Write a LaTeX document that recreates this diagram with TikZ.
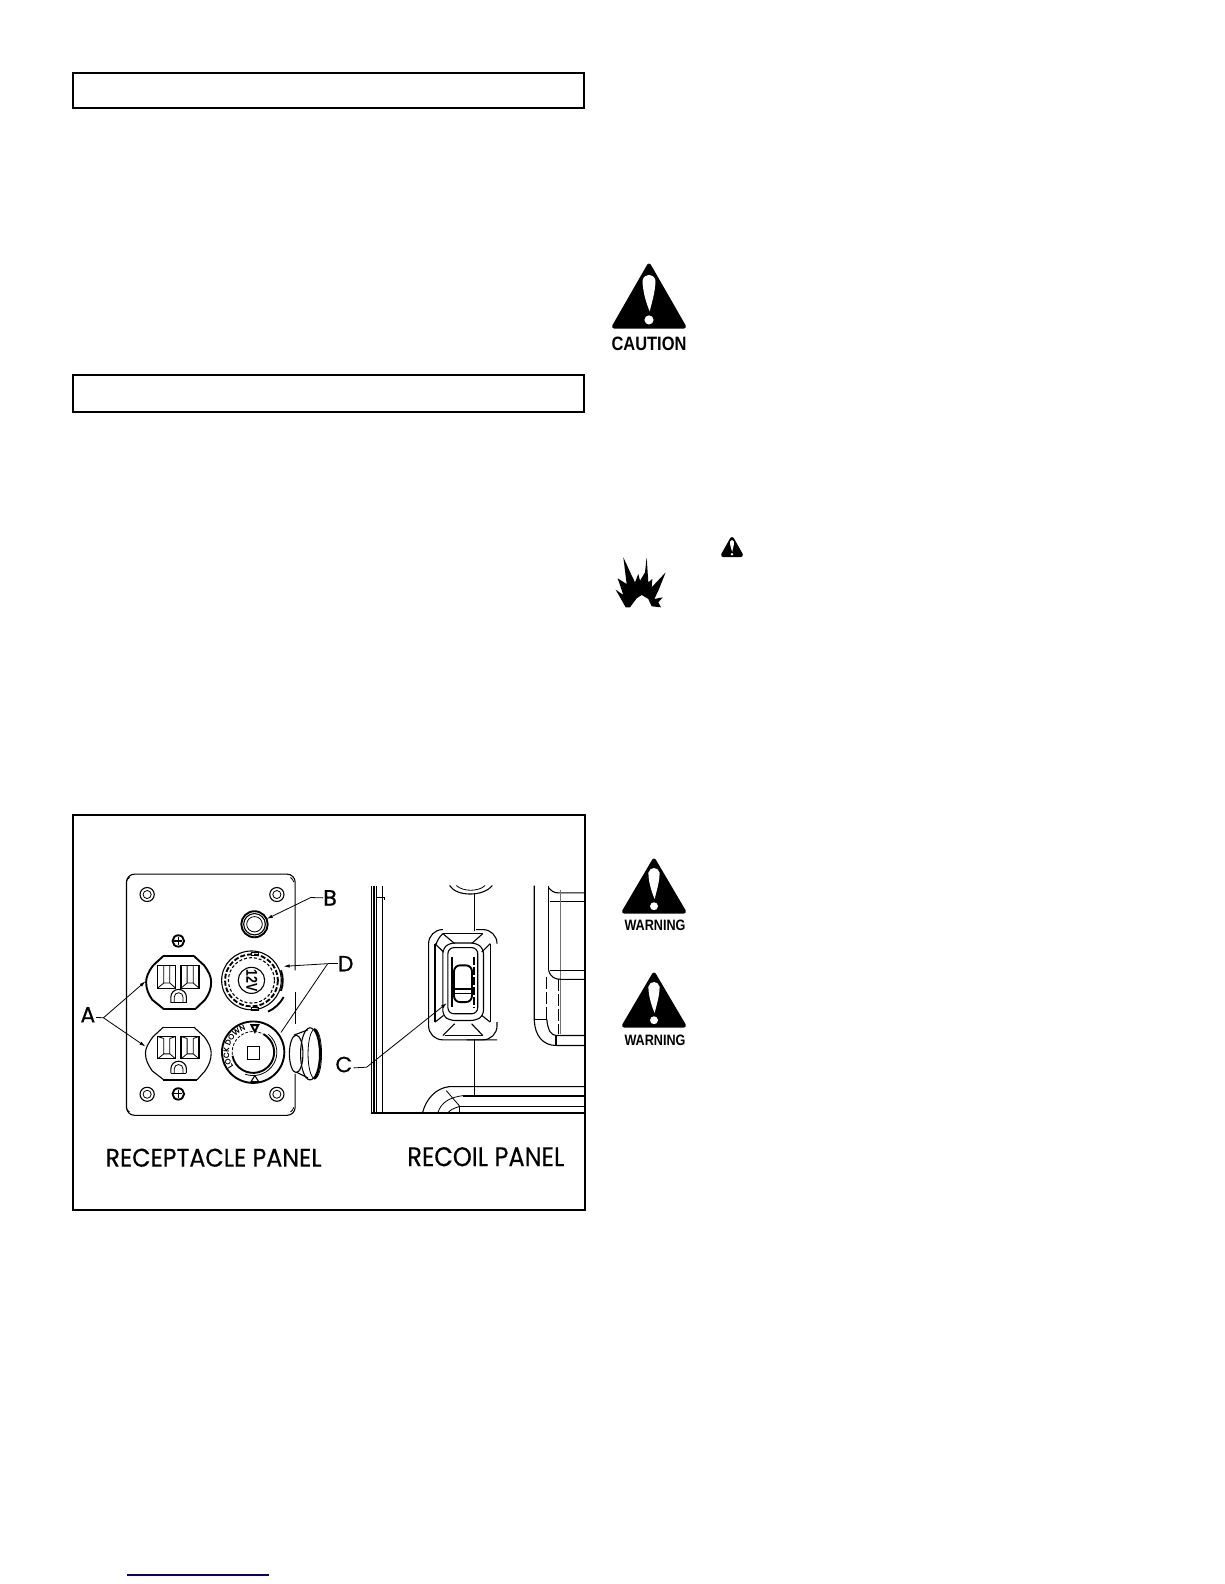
\documentclass[tikz,border=0pt]{standalone}
\usepackage{fontspec}
\usepackage{graphicx}
\setmainfont{Liberation Sans}
\newfontfamily\geo{Poppins}
\newfontfamily\geobold[FakeBold=0.35]{Poppins}
\newfontfamily\geoheavy[FakeBold=0.9]{Poppins}
\usetikzlibrary{decorations.text,arrows.meta}
\tikzset{
  framebox/.style={draw=black,line width=2pt},
  thin line/.style={draw=black,line width=0.8pt},
  med line/.style={draw=black,line width=1.1pt},
  heavy line/.style={draw=black,line width=1.9pt},
  leader/.style={draw=black,line width=0.8pt,-{Latex[length=6pt,width=3.5pt]}},
  plainleader/.style={draw=black,line width=0.8pt},
  callout/.style={inner sep=0pt,font=\geobold\fontsize{22}{22}\selectfont},
  calloutheavy/.style={inner sep=0pt,font=\geoheavy\fontsize{22}{22}\selectfont},
  panelname/.style={inner sep=0pt,font=\geobold},
  signtext/.style={inner sep=0pt,font=\bfseries}
}
% warning triangle: apex x, apex y, half base, height
\newcommand{\warntri}[4]{%
  \begin{scope}[shift={(#1,#2)}]
    \fill[black,draw=black,line width=4pt,line join=round]
      (0,3) -- (#3-3,#4-2) -- (-#3+3,#4-2) -- cycle;
    \fill[white] (-0.17*#3,0.27*#4) .. controls (-0.12*#3,0.16*#4) and (0.12*#3,0.16*#4) .. (0.17*#3,0.27*#4)
      .. controls (0.17*#3,0.45*#4) and (0.05*#3,0.65*#4) .. (0.02*#3,0.74*#4)
      .. controls (-0.05*#3,0.65*#4) and (-0.17*#3,0.45*#4) .. cycle;
    \fill[white] (0,0.87*#4) circle[radius=0.12*#3];
  \end{scope}}
\begin{document}
\begin{tikzpicture}[x=1pt,y=-1pt]
\useasboundingbox[fill=white] (0,0) rectangle (1224,1584);
% header boxes
\draw[framebox] (73,73) rectangle (584,108.5);
\draw[framebox] (73,375) rectangle (584,412);
\draw[framebox] (73,815) rectangle (585,1210);
% link rule
\draw[draw={rgb,255:red,0;green,0;blue,128},line width=1.3pt] (127,1575) -- (269,1575);
% signs
\warntri{649}{262.5}{38}{66}
\node[signtext] (cautiontext) at (649,344) {\resizebox{75pt}{13.5pt}{CAUTION}};
\warntri{732}{536}{12}{21}
\warntri{654}{857.5}{33}{56}
\node[signtext] (warntextone) at (655,925) {\resizebox{61pt}{10.5pt}{WARNING}};
\warntri{654}{971.5}{33}{56}
\node[signtext] (warntexttwo) at (655,1040) {\resizebox{61pt}{10.5pt}{WARNING}};
% explosion
\begin{scope}[shift={(595,519)},x=0.3333pt,y=-0.3333pt]
\fill[black] (85,115)--(108,165)--(120,190)--(130,165)--(135,185)--(150,160)--(155,115)--(160,190)--(172,180)--(170,205)--(212,160)--(190,215)--(178,240)--(203,235)--(190,250)--(198,265)--(170,262)--(160,240)--(140,228)--(125,238)--(105,265)--(92,265)--(62,212)--(85,228)--(68,178)--(95,195)--cycle;
\end{scope}
% panel figure in crop coordinates
\begin{scope}[shift={(60.1,800)},x=0.3387pt,y=-0.334pt]
% ---------- receptacle plate
\draw[med line,rounded corners=8pt] (694,510) -- (694,222) -- (196,222) -- (196,944) -- (694,944) -- (694,820);
\draw[thin line] (694,575) -- (694,670);
\draw[thin line] (205,232) arc[start angle=-120,end angle=-170,radius=20];
\draw[thin line] (680,232) arc[start angle=-60,end angle=-10,radius=20];
\draw[thin line] (205,934) arc[start angle=120,end angle=170,radius=20];
\draw[thin line] (680,934) arc[start angle=60,end angle=10,radius=20];
% plate screws
\foreach \sx/\sy in {257/283,640/283,257/881,640/881}{
  \draw[med line] (\sx,\sy) circle[radius=21];
  \draw[thin line] (\sx,\sy) circle[radius=12];
}
\foreach \sx/\sy in {349/422,349/880}{
  \draw[heavy line,fill=white] (\sx,\sy) circle[radius=17];
  \draw[med line] (\sx-12,\sy) -- (\sx+12,\sy) (\sx,\sy-12) -- (\sx,\sy+12);
}
% nut B
\draw[heavy line] (574,372) circle[radius=39];
\draw[med line] (574,372) circle[radius=32];
\draw[thin line] (574,372) circle[radius=23];
% receptacle upper
\draw[heavy line] (305,467) -- (395,467);
\draw[heavy line] (305,625) -- (400,625);
\draw[heavy line] (395,467) -- (425,495) .. controls (440,515) and (446,530) .. (446,545) .. controls (446,565) and (440,580) .. (428,598) -- (400,625);
\draw[heavy line] (305,467) -- (275,495) .. controls (260,515) and (254,530) .. (254,545) .. controls (254,565) and (260,580) .. (272,598) -- (305,625);
\foreach \ox in {288,357}{
  \draw[med line] (\ox,495) rectangle (\ox+53,563);
  \draw[thin line] (\ox+18,495) -- (\ox+18,548) -- (\ox,563) (\ox+36,495) -- (\ox+36,548) -- (\ox+53,563) (\ox+18,548) -- (\ox+36,548);
}
\draw[med line] (327,607) -- (373,607);
\draw[med line] (327,607) -- (327,590) arc[start angle=180,end angle=360,radius=23] -- (373,607);
\draw[thin line] (337,607) -- (337,590) arc[start angle=180,end angle=360,radius=13] -- (363,607);
% receptacle lower
\draw[med line] (305,680) -- (395,680);
\draw[heavy line] (305,837) -- (405,837);
\draw[med line] (395,680) -- (425,708) .. controls (440,728) and (446,743) .. (446,758) .. controls (446,778) and (440,793) .. (428,811) -- (405,837);
\draw[med line] (305,680) -- (275,708) .. controls (260,728) and (252,743) .. (252,758) .. controls (252,778) and (260,793) .. (272,811) -- (305,837);
\foreach \ox in {288,357}{
  \draw[med line] (\ox,708) rectangle (\ox+53,775);
  \draw[thin line] (\ox+18,714) -- (\ox+18,760) -- (\ox,775) (\ox+36,714) -- (\ox+36,760) -- (\ox+53,775) (\ox+18,760) -- (\ox+36,760) (\ox,708) -- (\ox+18,714) (\ox+53,708) -- (\ox+36,714);
}
\draw[med line] (327,818) -- (373,818);
\draw[med line] (327,818) -- (327,805) arc[start angle=180,end angle=360,radius=23] -- (373,818);
\draw[thin line] (337,818) -- (337,805) arc[start angle=180,end angle=360,radius=13] -- (363,818);
% 12V socket
\draw[med line] (565,540) circle[radius=88];
\draw[heavy line,dash pattern=on 5pt off 2pt] (565,540) circle[radius=78];
\draw[med line,dash pattern=on 3pt off 2pt] (565,540) circle[radius=68];
\draw[med line] (565,540) circle[radius=39];
\draw[heavy line] (660,590) arc[start angle=28,end angle=65,radius=100];
\draw[heavy line] (652,510) arc[start angle=-20,end angle=20,radius=90];
\draw[med line] (566,456) rectangle (586,465);
\draw[med line] (566,620) rectangle (586,629);
\node[inner sep=0pt,rotate=-90] (twelve) at (566,540) {\resizebox{22pt}{11pt}{\bfseries 12V}};
% lower socket
\draw[heavy line] (570,755) circle[radius=92];
\draw[heavy line] (570,755) ++(-60:62) arc[start angle=-60,end angle=170,radius=62];
\draw[thin line,dash pattern=on 3pt off 1.5pt] (570,755) circle[radius=62];
\draw[thin line] (570,755) ++(-50:70) arc[start angle=-50,end angle=110,radius=70];
\draw[med line] (553,738) rectangle (590,778);
\draw[heavy line] (565,674) -- (585,674) -- (575,694) -- cycle;
\draw[med line] (575,825) -- (564,843) -- (586,843) -- cycle;
\path[decorate,decoration={text along path,text={|\geobold\fontsize{7.5}{7.5}\selectfont|LOCK DOWN},text align=center}]
  (570,755) ++(-225:72) arc[start angle=-225,end angle=-98,radius=72];
% knob
\draw[med line] (690,704) -- (732,688);
\draw[med line] (698,815) -- (732,832);
\draw[med line] (697,760) ellipse[x radius=20,y radius=56];
\draw[med line] (738,760) ellipse[x radius=28,y radius=78];
\draw[heavy line] (768,760) arc[start angle=0,end angle=-80,x radius=22,y radius=76];
\draw[heavy line] (768,760) arc[start angle=0,end angle=80,x radius=22,y radius=76];
\draw[thin line] (752,760) ellipse[x radius=20,y radius=74];
% ---------- recoil panel
\draw[med line] (919,256) -- (919,937) -- (1552,937);
\draw[heavy line] (926,256) -- (926,937);
\draw[thin line] (935,256) -- (935,937);
\draw[med line] (951,256) -- (951,937);
\draw[thin line] (935,292) -- (956,292) -- (956,300);
% top arc and stems
\draw[med line] (1150,256) .. controls (1170,290) and (1250,290) .. (1276,256);
\draw[thin line] (1170,256) .. controls (1190,275) and (1235,275) .. (1255,256);
\draw[med line] (1224,282) -- (1224,392);
\draw[med line] (1224,716) -- (1224,885);
% switch bezel
\draw[med line,rounded corners=14pt] (1130,388) -- (1088,388) -- (1088,718) -- (1290,718);
\draw[med line,rounded corners=14pt] (1228,388) -- (1290,388) -- (1290,430);
\draw[med line,rounded corners=14pt] (1290,665) -- (1290,718) -- (1200,718);
\draw[med line] (1107,430) -- (1107,665);
\draw[med line] (1270,430) -- (1270,665);
\draw[med line] (1130,400) -- (1248,400) (1135,705) -- (1248,705);
\draw[med line,rounded corners=8pt] (1107,440) -- (1107,425) -- (1130,400);
\draw[med line] (1130,400) -- (1165,430) (1248,400) -- (1215,430) (1130,705) -- (1165,670) (1248,705) -- (1215,670);
\draw[med line] (1107,430) -- (1132,455) (1270,430) -- (1245,455) (1107,665) -- (1132,645) (1270,665) -- (1245,645);
\draw[med line,rounded corners=5pt] (1130,645) -- (1130,445) -- (1150,428) -- (1228,428) -- (1250,445) -- (1250,645) -- (1228,660) -- (1150,660) -- cycle;
\draw[med line,rounded corners=6pt] (1145,640) -- (1145,442) -- (1233,442) -- (1233,640) -- cycle;
\draw[heavy line] (1156,470) -- (1156,620);
\draw[med line,dash pattern=on 8pt off 2pt] (1222,470) -- (1222,620);
\draw[heavy line,rounded corners=6pt] (1163,495) rectangle (1216,605);
\draw[heavy line] (1163,565) -- (1216,565);
\draw[med line] (1163,578) -- (1216,578);
% bottom rails
\draw[med line] (1552,858) -- (1150,858) .. controls (1110,862) and (1080,895) .. (1070,937);
\draw[heavy line] (1552,885) -- (1190,885);
\draw[thin line] (1190,885) .. controls (1150,890) and (1125,905) .. (1115,937);
\draw[med line] (1552,917) -- (1180,917);
\draw[thin line] (1180,917) .. controls (1165,922) and (1150,928) .. (1145,937);
\draw[thin line] (1180,917) -- (1180,937);
\draw[thin line] (1140,870) -- (1180,917);
% right piece
\draw[med line] (1400,256) -- (1400,660) .. controls (1402,705) and (1425,735) .. (1465,735) -- (1552,735);
\draw[med line] (1442,256) -- (1442,510);
\draw[med line] (1442,262) .. controls (1450,272) and (1458,278) .. (1470,278) -- (1552,278);
\draw[med line] (1445,303) -- (1552,303);
\draw[draw=black!55,line width=0.8pt] (1477,268) -- (1477,700);
\draw[med line] (1445,510) -- (1552,510);
\draw[med line] (1442,510) .. controls (1448,530) and (1460,537) .. (1480,537) -- (1552,537);
\draw[med line,dash pattern=on 12pt off 3pt] (1437,530) -- (1437,657);
\draw[med line,dash pattern=on 12pt off 3pt] (1472,537) -- (1472,700);
\draw[heavy line] (1400,657) -- (1437,657);
\draw[med line] (1437,657) .. controls (1440,690) and (1450,705) .. (1465,705) -- (1552,705);
\draw[heavy line] (1465,705) -- (1465,735);
% ---------- labels and leaders
\node[callout] (labA) at (82,643) {A};
\node[calloutheavy] (labB) at (797,293) {B};
\node[callout] (labC) at (838,792) {C};
\node[calloutheavy] (labD) at (843,490) {D};
\coordinate (jointA) at (128,652);
\coordinate (tipAone) at (252,543);
\coordinate (tipAtwo) at (252,738);
\coordinate (tipB) at (610,356);
\coordinate (jointB) at (740,292);
\coordinate (jointC) at (905,800);
\coordinate (tipC) at (1142,608);
\coordinate (jointD) at (790,490);
\coordinate (tipDone) at (660,498);
\coordinate (tipDtwo) at (652,696);
\draw[plainleader] (labA.east) ++(2,8) -- (jointA);
\draw[leader] (jointA) -- (tipAone);
\draw[leader] (jointA) -- (tipAtwo);
\draw[leader] (labB.west) -- (jointB) -- (tipB);
\draw[leader] (labC.east) ++(3,10) -- (jointC) -- (tipC);
\draw[plainleader] (labD.west) -- (jointD);
\draw[leader] (jointD) -- (tipDone);
\draw[plainleader] (jointD) -- (tipDtwo);
\node[panelname] (recept) at (453,1071) {\resizebox{216pt}{18pt}{RECEPTACLE PANEL}};
\node[panelname] (recoil) at (1257,1068) {\resizebox{157pt}{19pt}{RECOIL PANEL}};
\end{scope}
\end{tikzpicture}
\end{document}
